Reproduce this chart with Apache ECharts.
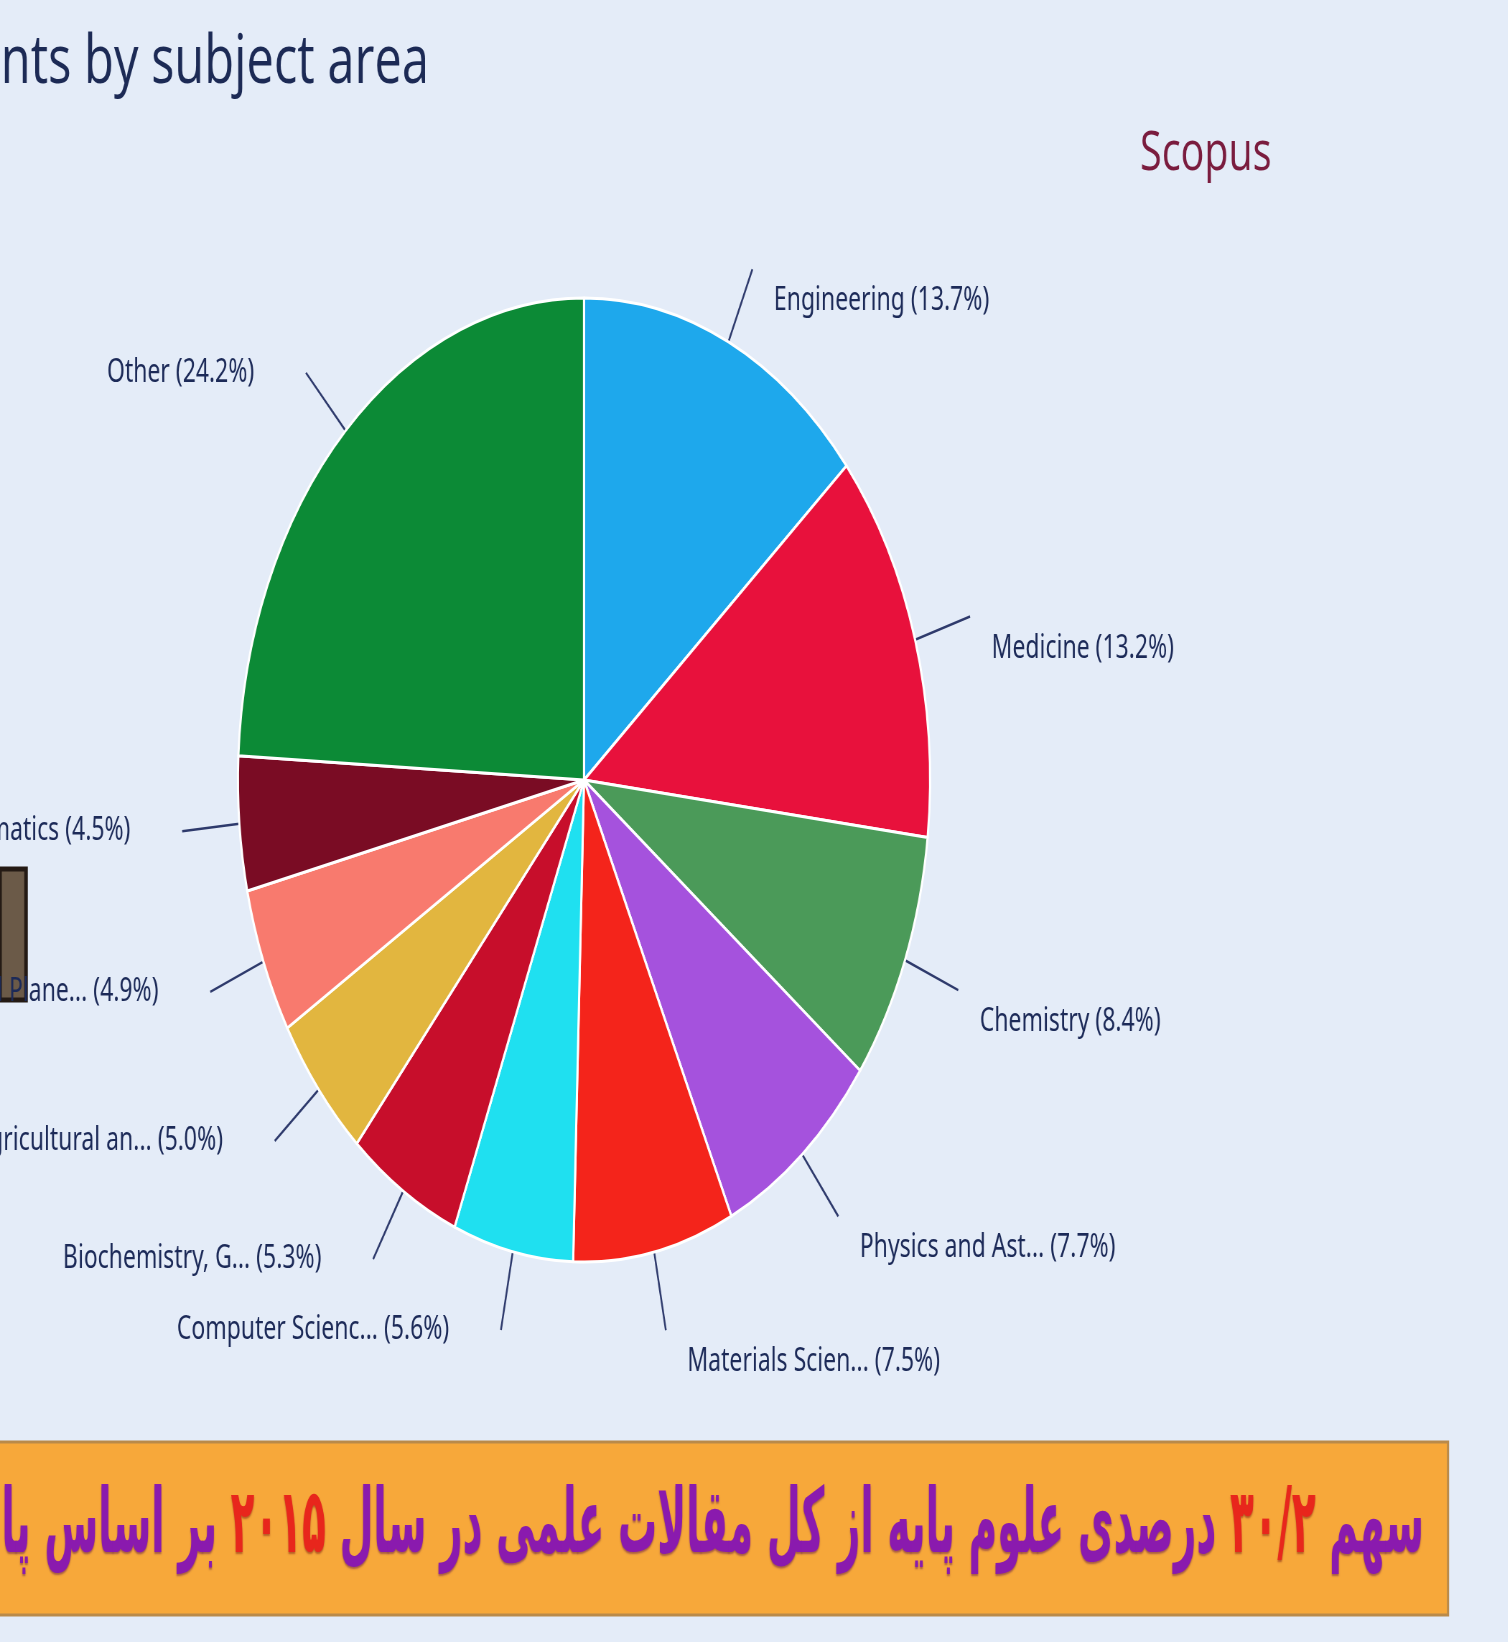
<!DOCTYPE html>
<html><head><meta charset="utf-8">
<script src="https://cdn.jsdelivr.net/npm/echarts@6/dist/echarts.min.js"></script>
<style>
html,body{margin:0;padding:0;background:#e4ecf8;overflow:hidden;width:1508px;height:1642px;}
#wrap{position:absolute;left:0;top:0;width:1508px;height:1642px;overflow:hidden;background:#e4ecf8;}
#chart{position:absolute;left:0;top:0;width:2100px;height:1642px;transform:scaleX(0.718);transform-origin:0 0;}
</style></head>
<body><div id="wrap"><div id="chart"></div></div>
<script>
// ---- data ----
const titleText = 'Documents by subject area';
const sourceText = 'Scopus';
const categories = [
  'Engineering', 'Medicine', 'Chemistry', 'Physics and Ast...', 'Materials Scien...',
  'Computer Scienc...', 'Biochemistry, G...', 'Agricultural an...', 'Earth and Plane...',
  'Mathematics', 'Other'
];
const shares = [13.7, 13.2, 8.4, 7.7, 7.5, 5.6, 5.3, 5.0, 4.9, 4.5, 24.2];
const sliceColors = [
  '#1ea8ec', '#e8113c', '#4b9a59', '#a552dd', '#f4241b',
  '#1fe0f0', '#c70e2b', '#e2b63f', '#f87a6e', '#7a0c24', '#0c8a36'
];
// banner sentence, split into visual segments (left to right)
const bannerParts = [
  ['p', 'بر اساس پایگاه اسکوپوس '],
  ['r', '۲۰۱۵'],
  ['p', ' درصدی علوم پایه از کل مقالات علمی در سال '],
  ['r', '۳۰/۲'],
  ['p', ' سهم']
];

const SX = 0.718; // horizontal squeeze of the photographed slide
const ux = v => v / SX;

const chart = echarts.init(document.getElementById('chart'), null, {renderer: 'canvas'});

const option = {
  backgroundColor: 'transparent',
  animation: false,
  graphic: [
    { type: 'text', style: {
        x: ux(429), y: 64, text: titleText, align: 'right', verticalAlign: 'middle',
        font: 'normal 68px "Open Sans", "Noto Sans", sans-serif', fill: '#1c2a55' } },
    { type: 'text', style: {
        x: ux(1140), y: 154, text: sourceText, align: 'left', verticalAlign: 'middle',
        font: 'normal 55px "Open Sans", "Noto Sans", sans-serif', fill: '#7a1c3e' } },
    { type: 'rect', shape: { x: 0, y: 869, width: ux(26), height: 131 },
      style: { fill: '#6b5a48', stroke: '#241a14', lineWidth: 5 } },
    { type: 'rect', shape: { x: -10, y: 1442, width: ux(1448) + 10, height: 173 },
      style: { fill: '#f7a83a', stroke: '#b98a4a', lineWidth: 3 } },
    { type: 'text', x: ux(1424), y: 1529, scaleX: 0.755, scaleY: 1.25,
      style: {
        x: 0, y: 0, align: 'right', verticalAlign: 'middle',
        text: bannerParts.map(p => '{' + p[0] + '|' + p[1] + '}').join(''),
        rich: {
          p: { fontFamily: '"DejaVu Sans", sans-serif', fontWeight: 'bold', fontSize: 72, fill: '#8a1aae', textShadowColor: 'rgba(90,20,80,0.5)', textShadowBlur: 2, textShadowOffsetY: 2 },
          r: { fontFamily: '"DejaVu Sans", sans-serif', fontWeight: 'bold', fontSize: 72, fill: '#e8261c', textShadowColor: 'rgba(120,20,20,0.5)', textShadowBlur: 2, textShadowOffsetY: 2 }
        } } }
  ],
  series: [{
    type: 'pie',
    center: [ux(584), 780],
    radius: 482,
    startAngle: 90,
    clockwise: true,
    avoidLabelOverlap: false,
    data: categories.map((c, i) => ({ name: c, value: shares[i], itemStyle: { color: sliceColors[i] } })),
    itemStyle: { borderColor: '#ffffff', borderWidth: 3 },
    label: {
      show: true,
      formatter: p => p.name + ' (' + p.value.toFixed(1) + '%)',
      fontFamily: '"Noto Sans", sans-serif',
      fontSize: 32,
      color: '#1c2a58',
      width: 700,
      distanceToLabelLine: 30
    },
    labelLine: {
      show: true,
      length: 80,
      length2: 0,
      lineStyle: { color: '#2e3a6c', width: 2.5 }
    },
    // Scopus draws right-hand labels a little below the connector end,
    // left-hand labels a little further from it
    labelLayout: function (p) {
      const r = p.labelRect;
      const onRight = p.align === 'left';
      const ax = onRight ? r.x : r.x + r.width;
      const ay = r.y + r.height / 2;
      return {
        x: onRight ? ax : ax - 42,
        y: onRight ? ay + 32 : ay,
        labelLinePoints: p.labelLinePoints
      };
    },
    emphasis: { disabled: true }
  }]
};
chart.setOption(option);
</script>
</body></html>
